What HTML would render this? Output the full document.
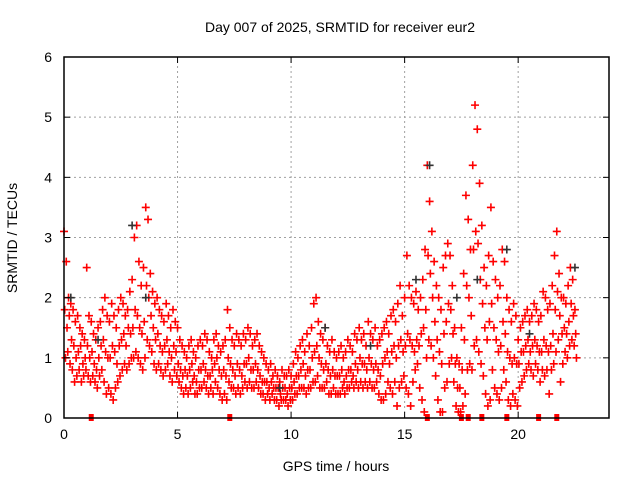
<!DOCTYPE html>
<html><head><meta charset="utf-8"><style>
body{margin:0;background:#fff;}
svg{display:block;font-family:"Liberation Sans",sans-serif;}
</style></head><body>
<svg id="chart" width="640" height="480" viewBox="0 0 640 480">
<text x="340" y="32" font-size="14" text-anchor="middle" fill="#000">Day 007 of 2025, SRMTID for receiver eur2</text>
<text x="17" y="238" font-size="14" text-anchor="middle" transform="rotate(-90 17 238)">SRMTID / TECUs</text>
<text x="336" y="471" font-size="14" text-anchor="middle">GPS time / hours</text>
<g id="grid"></g>
<g id="marks"></g>
<g id="axes"></g>
</svg>
<script>
const xTicks=[0,5,10,15,20];
const yTicks=[0,1,2,3,4,5,6];
const redHi=[3.1,2.6,2.0,1.9,1.8,1.6,1.7,1.5,1.4,1.3, 2.5,1.7,1.6,1.4,1.3,1.5,1.6,1.8,2.0,1.7, 1.6,1.9,1.7,1.5,1.8,2.0,1.9,1.7,1.8,2.1, 2.3,3.0,3.2,2.6,2.2,2.5,3.5,3.3,2.4,2.1, 1.9,2.0,1.8,1.7,1.6,1.9,1.7,1.5,1.8,1.6, 1.5,1.3,1.2,1.1,1.0,1.2,1.3,1.1,1.0,1.2, 1.3,1.2,1.4,1.3,1.1,1.0,1.3,1.4,1.2,1.1, 1.2,1.3,1.8,1.5,1.3,1.2,1.4,1.3,1.2,1.4, 1.3,1.5,1.4,1.2,1.3,1.4,1.2,1.1,1.0,0.9, 0.8,0.9,0.7,0.8,0.7,0.6,0.8,0.7,0.7,0.8, 0.7,0.9,1.1,1.0,1.2,1.3,1.1,1.4,1.2,1.5, 1.9,2.0,1.6,1.4,1.3,1.5,1.2,1.1,1.3,1.1, 1.0,1.1,1.2,1.0,1.1,1.3,1.2,1.1,1.4,1.3, 1.5,1.3,1.4,1.2,1.6,1.4,1.3,1.5,1.2,1.3, 1.4,1.5,1.6,1.4,1.7,1.8,1.6,1.9,2.2,1.7, 2.0,2.7,2.2,2.0,1.9,2.1,1.8,2.0,2.3,2.8, 4.2,3.6,3.1,2.6,2.2,2.0,1.8,2.5,2.7,2.9, 2.7,2.2,1.5,1.0,0.9,1.5,2.4,3.7,3.3,2.8, 4.2,5.2,4.8,3.9,3.2,2.5,2.2,2.7,3.5,2.6, 2.3,2.0,2.2,2.8,2.6,2.0,1.8,1.6,1.9,1.7, 1.3,1.5,1.6,1.7,1.8,1.6,1.7,1.9,1.8,1.6, 1.7,2.1,2.0,1.8,1.9,2.2,2.7,3.1,2.4,2.0, 2.0,1.9,2.2,2.5,2.3,1.8];
const redMid=[1.8,1.5,1.7,1.3,1.2,1.0,1.1,1.2,0.9,1.0, 1.2,1.0,1.1,0.9,0.8,1.0,1.2,1.3,1.1,1.0, 1.0,1.2,1.1,0.9,1.2,1.3,1.4,1.2,1.5,1.4, 1.5,1.8,1.7,1.5,1.4,1.6,2.2,2.0,1.7,1.5, 1.3,1.4,1.2,1.1,1.2,1.3,1.1,1.0,1.2,1.1, 0.9,0.8,0.7,0.8,0.7,0.8,0.9,0.7,0.6,0.8, 0.8,0.9,0.8,0.7,0.7,0.8,0.9,1.0,0.8,0.7, 0.8,0.7,1.0,0.9,0.8,0.7,0.9,0.8,0.7,0.9, 0.9,1.0,0.8,0.8,0.9,0.8,0.7,0.6,0.6,0.6, 0.5,0.6,0.5,0.5,0.5,0.4,0.5,0.5,0.4,0.5, 0.5,0.6,0.7,0.7,0.8,0.9,0.7,0.8,0.8,1.0, 1.1,1.2,1.0,0.9,0.8,0.9,0.8,0.7,0.8,0.7, 0.7,0.7,0.8,0.6,0.7,0.8,0.8,0.7,0.9,0.8, 1.0,0.9,0.9,0.8,1.0,0.9,0.8,0.9,0.8,0.7, 0.9,1.0,1.1,0.9,1.1,1.2,1.0,1.2,1.3,1.1, 1.2,1.4,1.3,1.2,1.1,1.3,1.2,1.4,1.5,1.8, 2.7,2.4,2.0,1.6,1.3,1.1,0.9,1.4,1.6,1.9, 1.8,1.4,0.9,0.5,0.5,0.8,1.3,2.2,2.0,1.7, 2.8,3.1,2.9,2.3,1.9,1.5,1.3,1.6,1.9,1.5, 1.3,1.1,1.2,1.6,1.4,1.1,1.0,0.9,1.0,0.9, 0.9,1.1,1.1,1.2,1.3,1.1,1.2,1.3,1.2,1.1, 1.1,1.3,1.2,1.1,1.2,1.4,1.8,2.1,1.7,1.4, 1.5,1.4,1.6,1.9,1.7,1.4];
const redLo=[1.0,1.1,0.9,0.8,0.6,0.7,0.8,0.6,0.7,0.8, 0.7,0.6,0.7,0.6,0.5,0.7,0.8,0.6,0.4,0.5, 0.4,0.3,0.5,0.6,0.7,0.8,0.9,0.8,0.9,1.0, 1.0,1.1,1.0,0.9,0.8,1.0,1.3,1.2,1.1,0.9, 0.8,0.9,0.8,0.7,0.8,0.9,0.7,0.6,0.8,0.7, 0.6,0.5,0.4,0.5,0.4,0.5,0.6,0.4,0.4,0.5, 0.5,0.6,0.5,0.4,0.5,0.4,0.6,0.5,0.4,0.3, 0.4,0.3,0.6,0.5,0.5,0.4,0.5,0.4,0.5,0.6, 0.5,0.6,0.5,0.5,0.6,0.5,0.4,0.4,0.3,0.4, 0.3,0.4,0.3,0.3,0.2,0.3,0.3,0.3,0.2,0.3, 0.3,0.4,0.4,0.5,0.5,0.5,0.4,0.5,0.5,0.6, 0.6,0.7,0.5,0.5,0.5,0.6,0.4,0.4,0.5,0.4, 0.4,0.4,0.5,0.4,0.5,0.5,0.6,0.5,0.6,0.5, 0.6,0.5,0.6,0.5,0.6,0.5,0.5,0.6,0.4,0.3, 0.3,0.4,0.6,0.5,0.4,0.6,0.2,0.5,0.6,0.7, 0.5,0.4,0.2,0.6,0.8,0.9,0.5,0.3,0.1,1.0, 1.3,1.2,1.0,0.7,0.3,0.1,0.1,0.5,0.6,0.9, 1.0,0.6,0.2,0.1,0.1,0.2,0.4,0.8,0.9,0.8, 1.2,1.3,1.1,0.9,0.7,0.4,0.2,0.3,0.8,0.5, 0.4,0.3,0.5,0.8,0.6,0.3,0.2,0.4,0.3,0.2, 0.5,0.6,0.7,0.8,0.9,0.8,0.7,0.9,0.8,0.6, 0.8,0.7,0.8,0.4,0.8,0.9,1.1,1.3,0.6,0.9, 1.1,1.0,1.2,1.3,1.2,1.0];
const blackT=[0.3,1.5,3.0,3.6,9.5,11.5,13.5,15.5,16.1,17.3,18.2,19.5,20.5,22.5];
const blackV=[2.0,1.3,3.2,2.0,0.5,1.5,1.2,2.3,4.2,2.0,2.3,2.8,1.4,2.5];
const zeroT=[1.2,7.3,16.0,17.5,17.8,18.4,19.5,20.9,21.7];

const X0=64,X1=609,Y0=418,Y1=57,XMAX=24,YMAX=6;
const xs=t=>X0+(X1-X0)*t/XMAX;
const ys=v=>Y0-(Y0-Y1)*v/YMAX;
const NS='http://www.w3.org/2000/svg';
function mk(tag,attrs,parent){const e=document.createElementNS(NS,tag);for(const k in attrs)e.setAttribute(k,attrs[k]);parent.appendChild(e);return e;}
const grid=document.getElementById('grid'),marks=document.getElementById('marks'),axes=document.getElementById('axes');
xTicks.forEach(t=>{
  if(t>0){const g=mk('line',{x1:xs(t),x2:xs(t),y1:Y0,y2:Y1,stroke:'#a0a0a0','stroke-dasharray':'2,3'},grid);
  
  }
  const tl=mk('text',{x:xs(t),y:Y0+21,'font-size':14,'text-anchor':'middle'},axes);tl.textContent=t;
  
  
  mk('line',{x1:xs(t),x2:xs(t),y1:Y0,y2:Y0-6,stroke:'#000'},axes);
  mk('line',{x1:xs(t),x2:xs(t),y1:Y1,y2:Y1+6,stroke:'#000'},axes);
});
yTicks.forEach(v=>{
  if(v>0&&v<YMAX){const g=mk('line',{x1:X0,x2:X1,y1:ys(v),y2:ys(v),stroke:'#a0a0a0','stroke-dasharray':'2,3'},grid);
  
  }
  const tl=mk('text',{x:X0-12,y:ys(v)+5,'font-size':14,'text-anchor':'end'},axes);tl.textContent=v;
  
  
  mk('line',{x1:X0,x2:X0+6,y1:ys(v),y2:ys(v),stroke:'#000'},axes);
  mk('line',{x1:X1,x2:X1-6,y1:ys(v),y2:ys(v),stroke:'#000'},axes);
});
const fr=mk('rect',{x:X0,y:Y1,width:X1-X0,height:Y0-Y1,fill:'none',stroke:'#000','stroke-width':1.5},axes);


function plus(x,y,c,name){
  const p=mk('path',{d:`M${x-4},${y}h8M${x},${y-4}v8`,stroke:c,'stroke-width':1.6,fill:'none'},marks);
  
  
}
[[redHi,'red-point-high'],[redMid,'red-point-mid'],[redLo,'red-point-low']].forEach(([arr,n],k)=>{
  arr.forEach((v,i)=>{const t=i*0.1+k*0.033;plus(xs(t),ys(v),'#ff0000',n);});
});
blackT.forEach((t,i)=>plus(xs(t),ys(blackV[i]),'#333','black-point'));
zeroT.forEach(t=>{const r=mk('rect',{x:xs(t)-2.5,y:Y0-4,width:5,height:7,fill:'#ff0000'},marks);
  
  });
</script>
</body></html>
